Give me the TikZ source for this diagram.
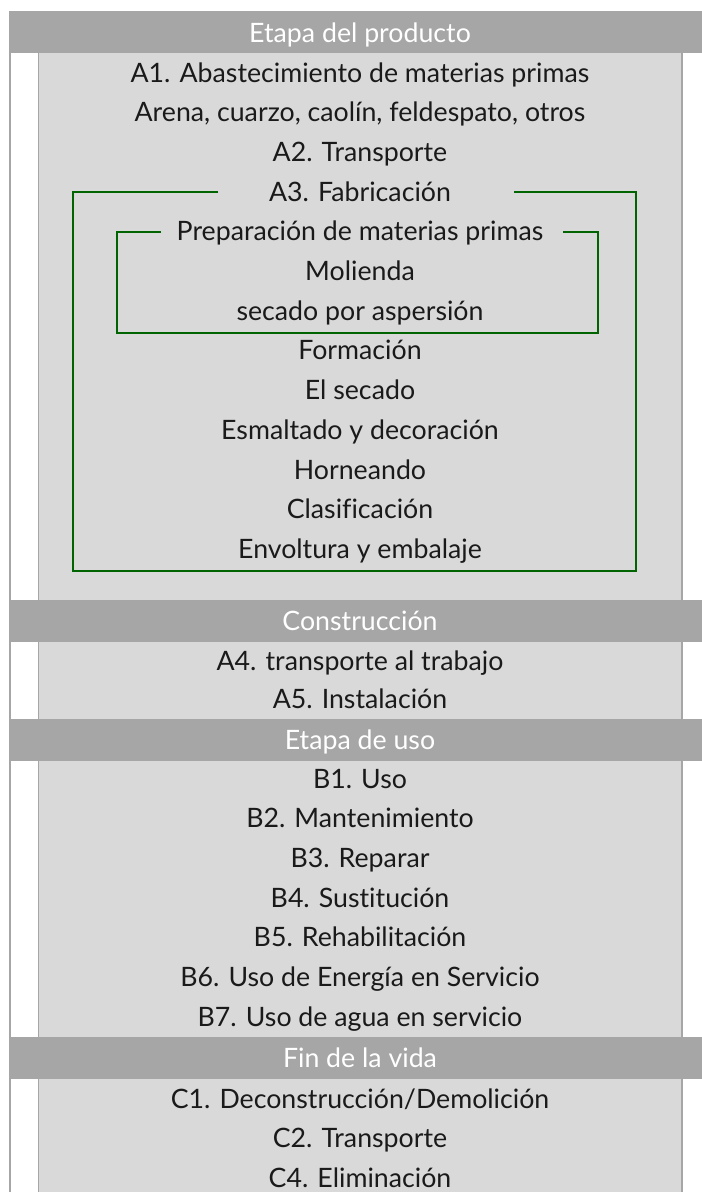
\documentclass[tikz,border=0pt]{standalone}
\usepackage{fontspec}
\setmainfont{Lato}[Ligatures=CommonOff]
\usetikzlibrary{positioning}
\definecolor{hdrgray}{HTML}{A6A6A6}
\definecolor{bodygray}{HTML}{D9D9D9}
\definecolor{framegreen}{HTML}{006400}
\definecolor{inkgray}{HTML}{1A1A1A}
\tikzstyle{stage} = [text=white, anchor=base, inner sep=0pt, font=\fontsize{19}{22}\selectfont]
\tikzstyle{item} = [text=inkgray, anchor=base, inner sep=0pt, font=\fontsize{19}{22}\selectfont]
\tikzstyle{band} = [fill=hdrgray]
\tikzstyle{panel} = [fill=bodygray]
\tikzstyle{rule} = [draw=hdrgray, line width=1.4pt]
\tikzstyle{bracket} = [draw=framegreen, line width=1.4pt]

\begin{document}
\begin{tikzpicture}[x=0.025cm, y=-0.025cm]
    \useasboundingbox (0,0) rectangle (702,1192);

    % background of the table
    \fill[panel] (39,53) rectangle (682,1192);
    \draw[rule] (10,11) -- (10,1192);
    \draw[rule] (38.5,53) -- (38.5,1192);
    \draw[rule] (682,53) -- (682,1192);

    % stage bands
    \fill[band] (10,11) rectangle (702,53);
    \fill[band] (10,600) rectangle (702,642);
    \fill[band] (10,719) rectangle (702,761);
    \fill[band] (10,1037) rectangle (702,1079);

    \node[stage] (prod) at (360,42) {Etapa del producto};
    \node[stage] (cons) at (360,630) {Construcción};
    \node[stage] (uso) at (360,749) {Etapa de uso};
    \node[stage] (fin) at (360,1067) {Fin de la vida};

    % product stage
    \foreach \t [count=\i from 0] in {A1. Abastecimiento de materias primas,
        {Arena, cuarzo, caolín, feldespato, otros}, A2. Transporte,
        A3. Fabricación, Preparación de materias primas, Molienda,
        secado por aspersión, Formación, El secado, Esmaltado y decoración,
        Horneando, Clasificación, Envoltura y embalaje}
        \node[item] (a\i) at (360,82+39.7*\i) {\t};

    % construction
    \node[item] (a13) at (360,670) {A4. transporte al trabajo};
    \node[item] (a14) at (360,708) {A5. Instalación};

    % use stage
    \foreach \t [count=\i from 1] in {B1. Uso, B2. Mantenimiento, B3. Reparar,
        B4. Sustitución, B5. Rehabilitación, B6. Uso de Energía en Servicio,
        B7. Uso de agua en servicio}
        \node[item] (b\i) at (360,748.3+39.7*\i) {\t};

    % end of life
    \node[item] (c1) at (360,1108) {C1. Deconstrucción/Demolición};
    \node[item] (c2) at (360,1147.5) {C2. Transporte};
    \node[item] (c4) at (360,1187) {C4. Eliminación};

    % manufacturing frames
    \draw[bracket] (218,192) -| (73,571) -| (636,192) -- (514,192);
    \draw[bracket] (161,232) -| (117,333) -| (598,232) -- (563,232);

\end{tikzpicture}
\end{document}
